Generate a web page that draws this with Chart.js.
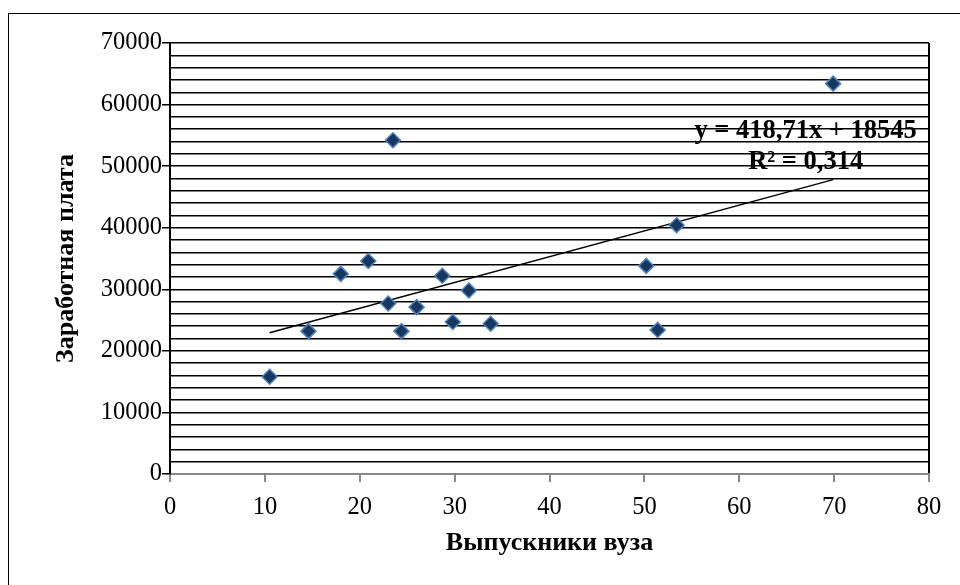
<!DOCTYPE html>
<html>
<head>
<meta charset="utf-8">
<script src="https://cdn.jsdelivr.net/npm/chart.js@4.4.1/dist/chart.umd.min.js"></script>
<style>
    html, body { margin: 0; padding: 0; background: #fff; overflow: hidden; }
    #wrap { position: relative; width: 960px; height: 585px; }
    #frame {
        position: absolute; left: 8px; top: 13px; width: 1000px; height: 1000px;
        border-left: 1px solid #000; border-top: 1px solid #000;
    }
    canvas { position: absolute; left: 0; top: 0; }
</style>
</head>
<body>
<div id="wrap">
    <div id="frame"></div>
    <canvas id="scatter" width="960" height="585"></canvas>
</div>
<script>
// Graduates (x) vs salary (y)
const graduates = [10.5, 14.6, 18.0, 20.9, 23.0, 23.5, 24.4, 26.0, 28.7, 29.8, 31.5, 33.8, 50.2, 51.4, 53.4, 69.9];
const salaries  = [15800, 23200, 32500, 34600, 27700, 54200, 23200, 27100, 32200, 24700, 29800, 24400, 33800, 23400, 40400, 63400];

// Trendline from the equation shown on the chart
const trendSlope = 418.71;
const trendIntercept = 18545;
const trendLabels = ['y = 418,71x + 18545', 'R² = 0,314'];
const trendLabelAnchor = { x: 67.0, y: 54500 };

const xTicks = [0, 10, 20, 30, 40, 50, 60, 70, 80];
const yLabelStep = 10000;
const yGridStep = 2000;

Chart.defaults.font.family = '"Liberation Serif", "Times New Roman", serif';
Chart.defaults.color = '#000';

const points = graduates.map((g, i) => ({ x: g, y: salaries[i] }));
const xMin = Math.min(...graduates);
const xMax = Math.max(...graduates);
const trendPoints = [
    { x: xMin, y: trendSlope * xMin + trendIntercept },
    { x: xMax, y: trendSlope * xMax + trendIntercept }
];

// Draws the trendline equation text
const trendLabelPlugin = {
    id: 'trendLabel',
    afterDatasetsDraw(chart) {
        const ctx = chart.ctx;
        const px = chart.scales.x.getPixelForValue(trendLabelAnchor.x);
        const py = chart.scales.y.getPixelForValue(trendLabelAnchor.y);
        ctx.save();
        ctx.font = 'bold 26.5px "Liberation Serif", serif';
        ctx.fillStyle = '#000';
        ctx.textAlign = 'center';
        ctx.textBaseline = 'alphabetic';
        ctx.fillText(trendLabels[0], px, py);
        ctx.fillText(trendLabels[1], px, py + 31);
        ctx.restore();
    }
};

const ctx = document.getElementById('scatter').getContext('2d');
new Chart(ctx, {
    type: 'scatter',
    data: {
        datasets: [
            {
                label: 'Данные',
                data: points,
                pointStyle: 'rectRot',
                pointRadius: 7.5,
                backgroundColor: '#17375E',
                borderColor: '#4F81BD',
                borderWidth: 1.5,
                order: 1
            },
            {
                type: 'line',
                label: 'Тренд',
                data: trendPoints,
                borderColor: '#000',
                borderWidth: 1.5,
                pointRadius: 0,
                fill: false,
                order: 2
            }
        ]
    },
    options: {
        responsive: false,
        animation: false,
        layout: { padding: { left: 51, top: 43, right: 31, bottom: 26 } },
        plugins: {
            legend: { display: false },
            tooltip: { enabled: false }
        },
        scales: {
            x: {
                type: 'linear',
                min: 0,
                max: 80,
                afterBuildTicks: (scale) => { scale.ticks = xTicks.map(v => ({ value: v })); },
                ticks: { font: { size: 24.5 }, padding: 11, maxRotation: 0 },
                grid: {
                    drawOnChartArea: true,
                    color: (c) => (c.tick && c.tick.value === 80 ? '#000' : 'rgba(0,0,0,0)'),
                    lineWidth: 2,
                    tickColor: '#888',
                    tickLength: 8
                },
                border: { display: true, color: '#888', width: 2 },
                title: {
                    display: true,
                    text: 'Выпускники вуза',
                    font: { size: 26, weight: 'bold' },
                    padding: { top: 4, bottom: 0 }
                },
                afterFit: (scale) => { scale.height = 585 - 474 - 26; }
            },
            y: {
                type: 'linear',
                min: 0,
                max: 70000,
                ticks: {
                    stepSize: yGridStep,
                    autoSkip: false,
                    font: { size: 24.5 },
                    padding: 0,
                    callback: (v) => (v % yLabelStep === 0 ? String(v) : '')
                },
                grid: {
                    color: (c) => (c.tick && c.tick.value === 0 ? 'rgba(0,0,0,0)' : '#000'),
                    lineWidth: 1.5,
                    tickColor: (c) => (c.tick && c.tick.value % yLabelStep === 0 ? '#000' : 'rgba(0,0,0,0)'),
                    tickLength: 8
                },
                border: { display: true, color: '#000', width: 2 },
                title: {
                    display: true,
                    text: 'Заработная плата',
                    font: { size: 26, weight: 'bold' },
                    padding: { top: 0, bottom: 0 }
                },
                afterFit: (scale) => { scale.width = 170 - 51; }
            }
        }
    },
    plugins: [trendLabelPlugin]
});
</script>
</body>
</html>
